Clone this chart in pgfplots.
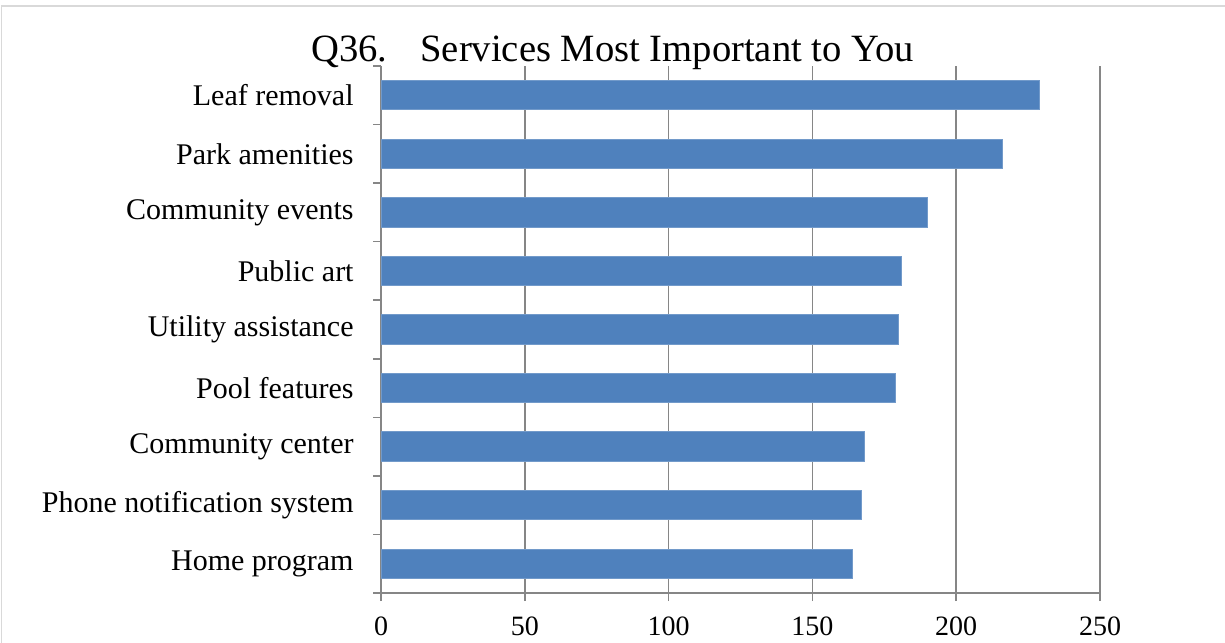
\documentclass[border=0pt]{standalone}
\usepackage{pgfplots}
\pgfplotsset{compat=1.18}
\usepackage{fontspec}
\setmainfont{Liberation Serif}
\definecolor{barblue}{RGB}{79,129,189}
\definecolor{gridgray}{RGB}{134,134,134}
\definecolor{framegray}{RGB}{217,217,217}
\pgfplotstableread{
idx val
0 164
1 167
2 168
3 179
4 180
5 181
6 190
7 216
8 229
}\datatable
\begin{document}
\begin{tikzpicture}
\useasboundingbox (0,0) rectangle (612.5pt,-321pt);
\draw[framegray, line width=0.75pt] (0.75pt,-330pt) -- (0.75pt,-3pt) -- (620pt,-3pt);
\node[anchor=base west, inner sep=0pt, font=\fontsize{19.3pt}{22pt}\selectfont] at (155.5pt,-31pt) {Q36.\hspace{16.5pt}Services Most Important to You};
\begin{axis}[
  at={(190.5pt,-296.5pt)}, anchor=south west,
  scale only axis, width=359.5pt, height=263.5pt,
  xbar, bar width=0.5, 
  xmin=0, xmax=250, ymin=-0.5, ymax=8.5,
  xtick={0,50,...,250},
  ytick={0,...,8},
  yticklabels={Home program, Phone notification system, Community center, Pool features, Utility assistance, Public art, Community events, Park amenities, Leaf removal},
  minor ytick={-0.5,0.5,...,8.5},
  axis x line*=bottom, axis y line*=left,
  axis line style={gridgray, line width=0.75pt, -},
  tick align=outside,
  major tick length=4pt, minor tick length=4pt,
  tick style={gridgray, line width=0.75pt},
  major y tick style={draw=none},
  xmajorgrids, grid style={gridgray, line width=0.75pt},
  /pgf/number format/assume math mode=true,
  xticklabel style={font=\fontsize{14pt}{16pt}\selectfont, inner sep=0pt, anchor=north, yshift=-7.5pt},
  yticklabel style={font=\fontsize{15pt}{18pt}\selectfont, inner sep=0pt, anchor=east, xshift=-9.5pt},
  clip=false,
]
\addplot[fill=barblue, draw=barblue!80!white, line width=0.5pt] table[x=val, y=idx] {\datatable};
\end{axis}
\end{tikzpicture}
\end{document}
